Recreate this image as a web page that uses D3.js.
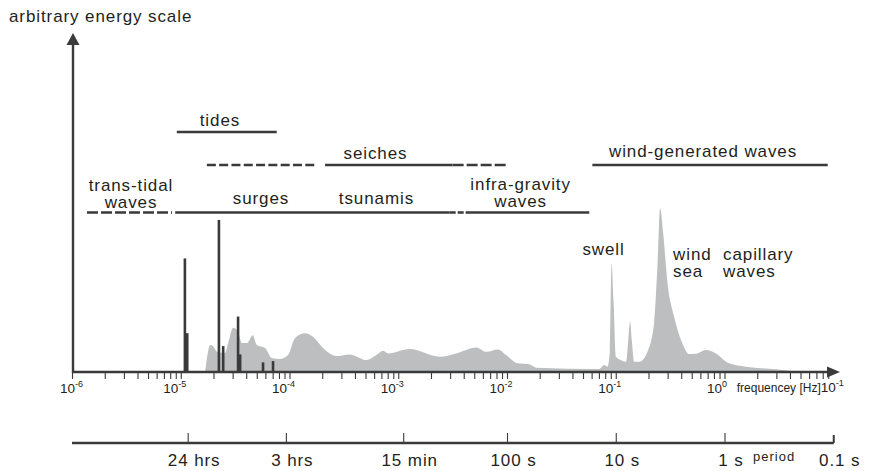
<!DOCTYPE html>
<html>
<head>
<meta charset="utf-8">
<script src="https://cdn.jsdelivr.net/npm/d3@7"></script>
<style>
  body { margin: 0; background: #fff; }
  text { font-family: "Liberation Sans", Arial, sans-serif; fill: #231f20; }
</style>
</head>
<body>
<div id="a"></div>
<script>
// frequency axis: decade exponents
var freqExp = [-6, -5, -4, -3, -2, -1, 0];
// period axis
var periodSeconds = [86400, 10800, 900, 100, 10, 1, 0.1];
var periodLabels = ["24 hrs", "3 hrs", "15 min", "100 s", "10 s", "1 s", "0.1 s"];

// background spectrum (Hz, arbitrary energy)
var specFreq = [1.66e-5, 1.85e-5, 1.98e-5, 2.13e-5, 2.53e-5, 2.70e-5, 3.00e-5, 3.33e-5, 3.61e-5, 4.01e-5,
  4.55e-5, 4.95e-5, 5.90e-5, 6.80e-5, 8.09e-5, 9.59e-5, 1.11e-4, 1.37e-4, 1.63e-4, 2.01e-4,
  2.68e-4, 3.55e-4, 5.05e-4, 6.24e-4, 7.18e-4, 7.98e-4, 1.26e-3, 2.38e-3, 3.38e-3, 5.16e-3,
  6.38e-3, 8.15e-3, 9.73e-3, 1.24e-2, 1.59e-2, 1.83e-2, 6.98e-2, 7.76e-2, 8.32e-2, 8.75e-2,
  9.06e-2, 9.44e-2, 9.93e-2, 0.110, 0.123, 0.129, 0.134, 0.139, 0.146, 0.163,
  0.194, 0.223, 0.239, 0.253, 0.270, 0.296, 0.340, 0.406, 0.468, 0.557,
  0.665, 0.822, 1.09, 1.55, 2.92, 4.77];
var specEnergy = [0, 8.1, 7.6, 6.1, 5.7, 8.7, 13.3, 12.1, 8.7, 8.7,
  11.1, 8.1, 7.2, 4.2, 3.9, 5.1, 10.2, 11.7, 10.6, 7.2,
  4.8, 5.3, 3.6, 5.1, 6.4, 5.6, 6.9, 4.6, 5.6, 7.4,
  6.1, 6.8, 5.1, 2.6, 2.3, 1.3, 0.9, 2.1, 1.6, 6.6,
  32.7, 21.7, 4.6, 3.6, 3.1, 9.6, 15.2, 9.6, 3.1, 3.1,
  6.1, 14.8, 31.7, 49.3, 41.9, 26.8, 16.7, 8.6, 5.4, 5.6,
  6.6, 5.6, 2.6, 1.6, 0.8, 0];

// tidal lines
var tideFreq = [1.08e-5, 1.135e-5, 2.22e-5, 2.43e-5, 3.33e-5, 3.48e-5, 5.65e-5, 6.98e-5];
var tideEnergy = [34.2, 11.7, 45.8, 7.8, 16.7, 5.3, 2.9, 3.3];

// band ranges (Hz)
var bandFrom = [9.1e-6, 1.72e-5, 2.1e-4, 3.13e-3, 6.03e-2, 1.36e-6, 8.8e-6, 2.94e-3, 4.12e-3];
var bandTo   = [7.55e-5, 1.76e-4, 3.13e-3, 1e-2, 8.8, 8.22e-6, 2.94e-3, 4.12e-3, 5.65e-2];
var bandKind = ["solid", "dash", "solid", "dash", "solid", "dash", "solid", "dash", "solid"];
var bandRow  = [0, 1, 1, 1, 1, 2, 2, 2, 2];

var W = 879, H = 471;
svg = d3.select("#a").append("svg")
  .attr("width", W).attr("height", H);

var x = d3.scaleLog().domain([1e-6, 10]).range([72.5, 833.75]);
var y = d3.scaleLinear().domain([0, 100]).range([372, 40]);
var ink = "#3a3a3a";

// spectrum
var spec = specFreq.map(function(f, i) { return {f: f, e: specEnergy[i]}; });
svg.append("path")
  .datum(spec)
  .attr("fill", "#bcbec0")
  .attr("d", d3.area()
    .x(function(d) { return x(d.f); })
    .y0(y(0))
    .y1(function(d) { return y(d.e); })
    .curve(d3.curveMonotoneX));

// tide spikes
svg.selectAll("rect.tide")
  .data(tideFreq)
  .enter().append("rect")
  .attr("class", "tide")
  .attr("x", function(d) { return x(d) - 1.3; })
  .attr("width", 2.6)
  .attr("y", function(d, i) { return y(tideEnergy[i]); })
  .attr("height", function(d, i) { return y(0) - y(tideEnergy[i]); })
  .attr("fill", ink);

// bands
var rowY = [132, 165, 212.5];
svg.selectAll("line.band")
  .data(bandFrom)
  .enter().append("line")
  .attr("class", "band")
  .attr("x1", function(d) { return x(d); })
  .attr("x2", function(d, i) { return x(bandTo[i]); })
  .attr("y1", function(d, i) { return rowY[bandRow[i]]; })
  .attr("y2", function(d, i) { return rowY[bandRow[i]]; })
  .attr("stroke", ink)
  .attr("stroke-width", 2.6)
  .attr("stroke-dasharray", function(d, i) {
    if (bandKind[i] == "solid") return null;
    if (i == 1) return "9,3.3";
    if (i == 3) return "11,3";
    if (i == 5) return "11,3";
    return "6,2";
  });

// annotations: [text lines, anchor freq, baseline y, anchor]
var notes = [
  [["tides"], 2.27e-5, 126, "middle"],
  [["seiches"], 6.11e-4, 159, "middle"],
  [["wind-generated waves"], 0.628, 157, "middle"],
  [["trans-tidal", "waves"], 3.45e-6, 191, "middle"],
  [["surges"], 5.41e-5, 204, "middle"],
  [["tsunamis"], 6.24e-4, 204, "middle"],
  [["infra-gravity", "waves"], 1.32e-2, 190, "middle"],
  [["swell"], 7.64e-2, 255, "middle"],
  [["wind", "sea"], 0.333, 260, "start"],
  [["capillary", "waves"], 0.96, 260, "start"]
];
notes.forEach(function(n) {
  var t = svg.append("text")
    .attr("x", x(n[1]))
    .attr("y", n[2])
    .attr("text-anchor", n[3])
    .style("font-size", "17px")
    .style("letter-spacing", "0.9px");
  n[0].forEach(function(s, k) {
    t.append("tspan").attr("x", x(n[1])).attr("dy", k == 0 ? 0 : 16.7).text(s);
  });
});

// y axis with arrow
svg.append("line")
  .attr("x1", 73).attr("x2", 73)
  .attr("y1", y(0) + 1).attr("y2", 44)
  .attr("stroke", ink).attr("stroke-width", 2.4);
svg.append("path")
  .attr("d", "M73,33 L66.5,45 L79.5,45 Z")
  .attr("fill", ink);
svg.append("text")
  .attr("x", 9).attr("y", 22)
  .style("font-size", "17px")
  .style("letter-spacing", "0.9px")
  .text("arbitrary energy scale");

// frequency axis
svg.append("line")
  .attr("x1", 72).attr("x2", 830)
  .attr("y1", y(0)).attr("y2", y(0))
  .attr("stroke", ink).attr("stroke-width", 2.4);
svg.append("path")
  .attr("d", "M840," + y(0) + " L827," + (y(0) - 5.5) + " L827," + (y(0) + 5.5) + " Z")
  .attr("fill", ink);

var minor = [];
for (var e = -6; e <= 0; e++) for (var m = 1; m <= 9; m++) minor.push(m * Math.pow(10, e));
svg.selectAll("line.tick")
  .data(minor)
  .enter().append("line")
  .attr("class", "tick")
  .attr("x1", function(d) { return x(d); })
  .attr("x2", function(d) { return x(d); })
  .attr("y1", y(0)).attr("y2", y(0) + 7)
  .attr("stroke", ink).attr("stroke-width", 1.1);

freqExp.forEach(function(p, i) {
  var t = svg.append("text")
    .attr("x", x(Math.pow(10, p)) - (i == 0 ? 12.5 : 18))
    .attr("y", 393)
    .style("font-size", "13.5px");
  t.append("tspan").text("10");
  t.append("tspan").attr("dy", -6).style("font-size", "9px").text(String(p));
});
var ft = svg.append("text")
  .attr("x", x(10) - 97)
  .attr("y", 392)
  .style("font-size", "12px");
ft.append("tspan").text("frequencey [Hz]");
ft.append("tspan").style("font-size", "13.5px").text("10");
ft.append("tspan").attr("dy", -6).style("font-size", "9px").text("-1");

// period axis
var py = 443;
svg.append("line")
  .attr("x1", 72).attr("x2", x(10))
  .attr("y1", py).attr("y2", py)
  .attr("stroke", ink).attr("stroke-width", 2.4);
svg.selectAll("line.ptick")
  .data(periodSeconds)
  .enter().append("line")
  .attr("class", "ptick")
  .attr("x1", function(d) { return x(1 / d); })
  .attr("x2", function(d) { return x(1 / d); })
  .attr("y1", py).attr("y2", function(d, i) { return i == periodSeconds.length - 1 ? py - 8 : py - 10; })
  .attr("stroke", ink).attr("stroke-width", function(d, i) { return i == periodSeconds.length - 1 ? 2 : 1.1; });
svg.selectAll("text.plab")
  .data(periodSeconds)
  .enter().append("text")
  .attr("class", "plab")
  .attr("x", function(d) { return x(1 / d) + 6; })
  .attr("y", 466)
  .attr("text-anchor", "middle")
  .style("font-size", "17px")
  .style("letter-spacing", "0.9px")
  .text(function(d, i) { return periodLabels[i]; });
svg.append("text")
  .attr("x", x(1) + 28).attr("y", 461)
  .style("font-size", "13px")
  .style("letter-spacing", "1px")
  .text("period");
</script>
</body>
</html>
